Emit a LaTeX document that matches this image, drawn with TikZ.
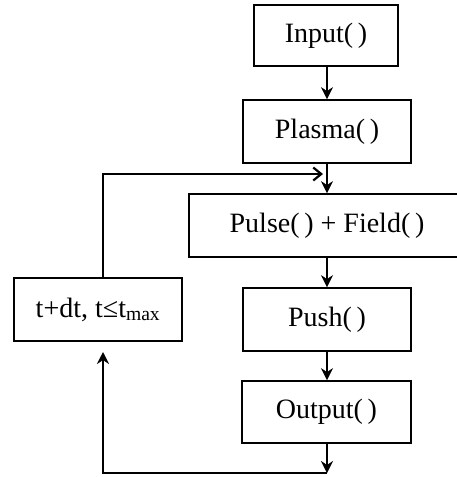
\documentclass[tikz,border=0pt]{standalone}
\usepackage{fontspec}
\setmainfont{Liberation Serif}
\usetikzlibrary{arrows.meta}
\begin{document}
\begin{tikzpicture}[x=1pt,y=1pt,
  boxnode/.style={draw,line width=1.8pt,inner sep=0pt,font=\fontsize{28}{33}\selectfont},
  arr/.style={line width=2.2pt,-{Stealth[length=12pt,width=12pt,inset=4pt,line width=0.5pt]}},
  openarr/.style={line width=2.2pt,-{Straight Barb[length=8pt,width=13pt,line width=2.2pt]}}]
\useasboundingbox (0,0) rectangle (457,-477);
\node[boxnode,minimum width=144pt,minimum height=61pt] (inp) at (326,-35.5) {Input(\,)};
\node[boxnode,minimum width=168pt,minimum height=63pt] (pla) at (327,-131.5) {Plasma(\,)};
\node[boxnode,minimum width=276pt,minimum height=63pt] (pul) at (327,-225.5) {Pulse(\,) + Field(\,)};
\node[boxnode,minimum width=168pt,minimum height=63pt] (pus) at (327,-319.5) {Push(\,)};
\node[boxnode,minimum width=169pt,minimum height=62pt] (out) at (326.5,-412) {Output(\,)};
\node[boxnode,minimum width=168pt,minimum height=63pt] (lp) at (98,-309.5) {t+dt, t≤t\textsubscript{max}};
\coordinate (fbtop) at (323,-174);
\coordinate (bot) at (327,-473);
\coordinate (upend) at (103,-352);
\draw[arr] (inp.south -| 327,0) -- (pla.north -| 327,0);
\draw[arr] (pla.south -| 327,0) -- (pul.north -| 327,0);
\draw[arr] (pul.south -| 327,0) -- (pus.north -| 327,0);
\draw[arr] (pus.south -| 327,0) -- (out.north -| 327,0);
\draw[arr] (out.south -| 327,0) -- (bot);
\draw[openarr] (lp.north -| 103,0) |- (fbtop);
\draw[arr] (bot) -| (upend);
\end{tikzpicture}
\end{document}
